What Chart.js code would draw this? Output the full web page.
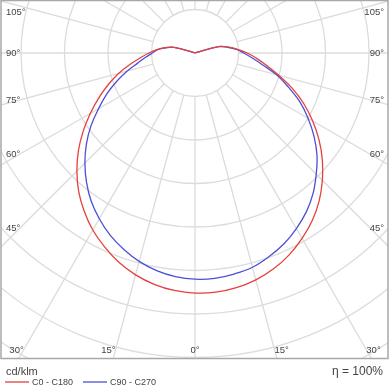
<!DOCTYPE html>
<html>
<head>
<meta charset="utf-8">
<script src="https://cdn.jsdelivr.net/npm/chart.js@4.4.0/dist/chart.umd.min.js"></script>
<style>
  html, body { margin: 0; padding: 0; background: #fff; }
  #wrap { width: 390px; height: 390px; }
</style>
</head>
<body>
<div id="wrap"><canvas id="ldc"></canvas></div>
<script>
// gamma angle from nadir (deg) and luminous intensity (cd/klm) per half plane
const gammaAngles = [0, 5, 10, 15, 20, 25, 30, 35, 40, 45, 50, 55, 60, 65, 70, 75, 80, 85, 90, 95, 100, 105, 110];
const c0Values   = [276, 276, 274, 270, 264, 256, 246, 235, 222, 207, 191, 174, 156, 138, 119, 100, 84, 71, 60, 49, 39, 28, 0];
const c180Values = [276, 274, 270, 264, 256, 246, 235, 222, 208, 192, 175, 157, 139, 122, 106, 91, 76, 63, 53, 44, 35, 25, 0];
const c90Values  = [260, 260, 258, 255, 249, 242, 233, 223, 211, 197, 183, 167, 150, 133, 114, 97, 79, 66, 56, 48, 38, 28, 0];
const c270Values = [260, 258, 254, 248, 240, 231, 220, 208, 194, 179, 163, 146, 128, 112, 96, 81, 67, 57, 49, 43, 34, 25, 0];

const seriesNames = ['C0 - C180', 'C90 - C270'];
const ringValues = [50, 100, 150, 200, 250, 300, 350, 400, 450];
const rayAngles = [0, 15, 30, 45, 60, 75, 90, 105, 120, 135, 150, 165, 180, 195, 210, 225, 240, 255, 270, 285, 300, 315, 330, 345];
const sideLabels = [45, 60, 75, 90, 105];
const bottomLabels = [-30, -15, 0, 15, 30];
const unitLabel = 'cd/klm';
const efficiencyLabel = 'η = 100%';

const RED = '#e4403c';
const BLUE = '#4d4fd6';
const TEXT = '#444';

// left half goes from the top (center) down to nadir, right half back up
function toPolarPoints(leftVals, rightVals) {
    const pts = [];
    for (let i = gammaAngles.length - 1; i >= 0; i--) {
        const g = gammaAngles[i] * Math.PI / 180;
        pts.push({ x: -leftVals[i] * Math.sin(g), y: -leftVals[i] * Math.cos(g) });
    }
    for (let i = 1; i < gammaAngles.length; i++) {
        const g = gammaAngles[i] * Math.PI / 180;
        pts.push({ x: rightVals[i] * Math.sin(g), y: -rightVals[i] * Math.cos(g) });
    }
    return pts;
}

const polarGrid = {
    id: 'polarGrid',
    beforeDatasetsDraw(chart) {
        const { ctx, chartArea: a, scales: { x, y } } = chart;
        const cx = x.getPixelForValue(0), cy = y.getPixelForValue(0);
        const px = v => x.getPixelForValue(v) - cx;
        ctx.save();
        ctx.beginPath();
        ctx.rect(a.left, a.top, a.right - a.left, a.bottom - a.top);
        ctx.clip();
        ctx.strokeStyle = '#dcdcdc';
        ctx.lineWidth = 1.3;
        ringValues.forEach(v => {
            ctx.beginPath();
            ctx.arc(cx, cy, px(v), 0, Math.PI * 2);
            ctx.stroke();
        });
        const r0 = px(ringValues[0]), r1 = px(ringValues[ringValues.length - 1]) + 60;
        rayAngles.forEach(d => {
            const g = d * Math.PI / 180;
            const sx = Math.sin(g), sy = Math.cos(g);
            ctx.beginPath();
            ctx.moveTo(cx + sx * r0, cy + sy * r0);
            ctx.lineTo(cx + sx * r1, cy + sy * r1);
            ctx.stroke();
        });
        ctx.restore();
    },
    afterDraw(chart) {
        const { ctx, chartArea: a, scales: { x, y } } = chart;
        const cx = x.getPixelForValue(0), cy = y.getPixelForValue(0);
        ctx.save();
        // frame
        ctx.strokeStyle = '#a8a8a8';
        ctx.lineWidth = 1.5;
        ctx.strokeRect(a.left, a.top + 0.5, a.right - a.left, a.bottom - a.top);

        // angle labels
        ctx.fillStyle = TEXT;
        ctx.font = '9.5px "Liberation Sans", Arial, sans-serif';
        ctx.textBaseline = 'middle';
        sideLabels.forEach(d => {
            const g = d * Math.PI / 180;
            const dx = cx - (a.left + 19);
            const yy = Math.max(a.top + 12, cy + dx * Math.cos(g) / Math.sin(g));
            ctx.textAlign = 'left';
            ctx.fillText(d + '°', a.left + 5, yy);
            ctx.textAlign = 'right';
            ctx.fillText(d + '°', a.right - 4, yy);
        });
        const by = a.bottom - 8;
        ctx.textAlign = 'center';
        bottomLabels.forEach(d => {
            const g = d * Math.PI / 180;
            const off = Math.sign(d) * 7;
            ctx.fillText(Math.abs(d) + '°', cx + (by - cy) * Math.tan(g) + off, by);
        });

        // unit + legend
        ctx.textBaseline = 'alphabetic';
        ctx.textAlign = 'left';
        ctx.font = '11px "Liberation Sans", Arial, sans-serif';
        ctx.fillText(unitLabel, 6, 375);
        ctx.textAlign = 'right';
        ctx.font = '12px "Liberation Sans", Arial, sans-serif';
        ctx.fillText(efficiencyLabel, 383, 375);

        ctx.textAlign = 'left';
        ctx.font = '9px "Liberation Sans", Arial, sans-serif';
        let lx = 5;
        chart.data.datasets.forEach(ds => {
            ctx.strokeStyle = ds.borderColor;
            ctx.lineWidth = 1.3;
            ctx.beginPath();
            ctx.moveTo(lx, 382);
            ctx.lineTo(lx + 24, 382);
            ctx.stroke();
            ctx.fillText(ds.label, lx + 27, 385);
            lx += 78;
        });
        ctx.restore();
    }
};

new Chart(document.getElementById('ldc'), {
    type: 'scatter',
    data: {
        datasets: [
            { label: seriesNames[0], data: toPolarPoints(c180Values, c0Values), borderColor: RED },
            { label: seriesNames[1], data: toPolarPoints(c270Values, c90Values), borderColor: BLUE }
        ].map(ds => ({
            ...ds,
            showLine: true,
            pointRadius: 0,
            borderWidth: 1.3,
            tension: 0.4,
            fill: false
        }))
    },
    options: {
        responsive: true,
        maintainAspectRatio: false,
        animation: false,
        events: [],
        layout: { padding: { left: 1, right: 2, top: 0, bottom: 32 } },
        plugins: { legend: { display: false }, tooltip: { enabled: false } },
        scales: {
            x: { type: 'linear', min: -223, max: 221.8, display: false },
            y: { type: 'linear', min: -350.6, max: 60.9, display: false }
        }
    },
    plugins: [polarGrid]
});
</script>
</body>
</html>
